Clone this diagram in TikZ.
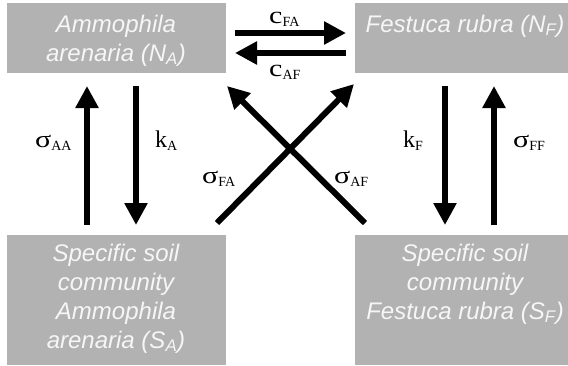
\documentclass[tikz,border=0pt]{standalone}
\usepackage{fontspec}
\usepackage{graphicx}
\setmainfont{Liberation Serif}
\newfontfamily\boxfont{Liberation Sans}
\usetikzlibrary{arrows.meta}
\definecolor{boxgray}{RGB}{178,178,178}
\definecolor{boxtext}{RGB}{246,246,246}
\newcommand\mylbl[2]{#1\raisebox{-3pt}{\fontsize{14}{14}\selectfont #2}}
\newcommand\mysig{\scalebox{1.25}[1]{σ}}
\newcommand\myc{\scalebox{1.25}[1]{c}}
\tikzset{
  boxnode/.style={rectangle, fill=boxgray, draw=none, inner sep=0pt, anchor=north west},
  boxlabel/.style={anchor=base, inner sep=0pt, align=center, text=boxtext,
    font=\boxfont\itshape\fontsize{24}{29}\selectfont},
  ratelabel/.style={anchor=base west, inner sep=0pt, font=\fontsize{24}{28}\selectfont},
  flow/.style={line width=6pt, -{Triangle[length=22pt,width=22pt]}}
}
\begin{document}
\begin{tikzpicture}[x=1pt,y=-1pt]
\useasboundingbox (0,0) rectangle (568,365);
% boxes
\node[boxnode, minimum width=219pt, minimum height=70pt] (NA) at (7,3) {};
\node[boxnode, minimum width=213pt, minimum height=70pt] (NF) at (355,3) {};
\node[boxnode, minimum width=219pt, minimum height=130pt] (SA) at (7,235) {};
\node[boxnode, minimum width=213pt, minimum height=130pt] (SF) at (355,235) {};
% box texts (anchored at the baseline of the last line)
\node[boxlabel] (tNA) at (116,61) {Ammophila\\arenaria (N\textsubscript{A})};
\node[boxlabel] (tNF) at (465,32) {Festuca rubra (N\textsubscript{F})};
\node[boxlabel] (tSA) at (116,348) {Specific soil\\community\\Ammophila\\arenaria (S\textsubscript{A})};
\node[boxlabel] (tSF) at (465,319) {Specific soil\\community\\Festuca rubra (S\textsubscript{F})};
% arrow end points
\coordinate (aaS) at (87,225);  \coordinate (aaE) at (87,86);
\coordinate (kaS) at (136,86);  \coordinate (kaE) at (136,225);
\coordinate (kfS) at (445,86);  \coordinate (kfE) at (445,225);
\coordinate (ffS) at (494,225); \coordinate (ffE) at (494,86);
\coordinate (cfaS) at (235,33); \coordinate (cfaE) at (346,33);
\coordinate (cafS) at (346,53); \coordinate (cafE) at (235,53);
\coordinate (sfaS) at (217,223); \coordinate (sfaE) at (354,84);
\coordinate (safS) at (365,223); \coordinate (safE) at (227,86);
% arrows
\draw[flow] (aaS) -- (aaE);
\draw[flow] (kaS) -- (kaE);
\draw[flow] (kfS) -- (kfE);
\draw[flow] (ffS) -- (ffE);
\draw[flow] (cfaS) -- (cfaE);
\draw[flow] (cafS) -- (cafE);
\draw[flow] (sfaS) -- (sfaE);
\draw[flow] (safS) -- (safE);
% labels
\node[ratelabel] (lcfa) at (269,23) {\mylbl{\myc}{FA}};
\node[ratelabel] (lcaf) at (269,76) {\mylbl{\myc}{AF}};
\node[ratelabel] (lsaa) at (35,147) {\mylbl{\mysig}{AA}};
\node[ratelabel] (lka) at (155,147) {\mylbl{k}{A}};
\node[ratelabel] (lkf) at (403,147) {\mylbl{k}{F}};
\node[ratelabel] (lsff) at (513,147) {\mylbl{\mysig}{FF}};
\node[ratelabel] (lsfa) at (202,183) {\mylbl{\mysig}{FA}};
\node[ratelabel] (lsaf) at (334,183) {\mylbl{\mysig}{AF}};
\end{tikzpicture}
\end{document}
